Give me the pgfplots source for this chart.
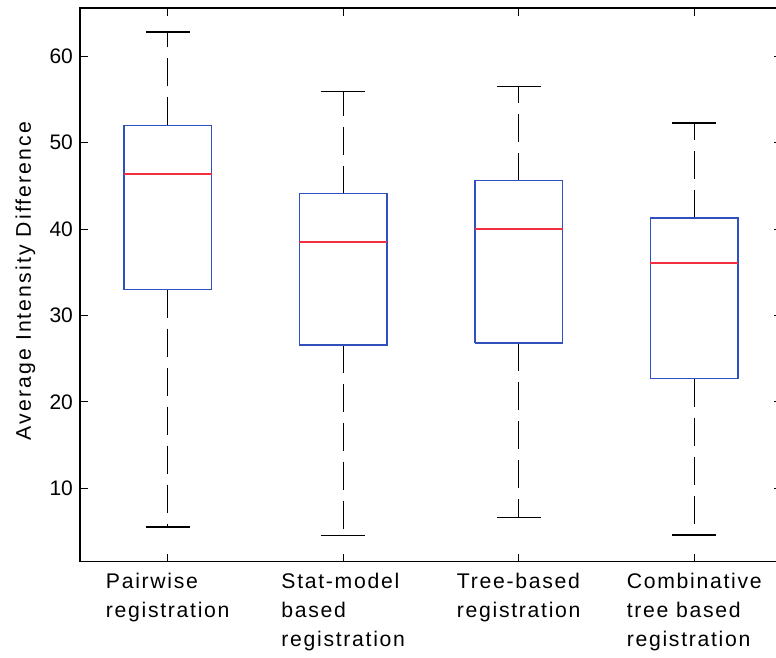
\documentclass[border=0pt]{standalone}
\usepackage{pgfplots}
\pgfplotsset{compat=1.18}
\usepackage{fontspec}
\setmainfont{Liberation Sans}
\newfontfamily\lblfont{Liberation Sans}[LetterSpace=8]
\newfontfamily\ylblfont{Liberation Sans}[LetterSpace=10]

\definecolor{boxblue}{RGB}{48,80,192}
\definecolor{medred}{RGB}{240,48,64}

\pgfplotsset{
  boxline/.style={boxblue, line width=0.7pt, line join=miter},
  medline/.style={medred, line width=0.7pt},
  whisk/.style={black, line width=0.7pt, dash pattern=on 14pt off 5.5pt},
  capline/.style={black, line width=0.7pt},
}

% #1 position, #2 lower whisker, #3 lower quartile, #4 median, #5 upper quartile, #6 upper whisker
\newcommand\drawbox[6]{%
  \pgfmathsetmacro\boxL{#1-0.25}\pgfmathsetmacro\boxR{#1+0.25}%
  \pgfmathsetmacro\capL{#1-0.125}\pgfmathsetmacro\capR{#1+0.125}%
  \addplot[whisk] coordinates {(#1,#5) (#1,#6)};
  \addplot[whisk] coordinates {(#1,#3) (#1,#2)};
  \addplot[capline] coordinates {(\capL,#6) (\capR,#6)};
  \addplot[capline] coordinates {(\capL,#2) (\capR,#2)};
  \addplot[boxline] coordinates {(\boxL,#3) (\boxR,#3) (\boxR,#5) (\boxL,#5) (\boxL,#3)};
  \addplot[medline] coordinates {(\boxL,#4) (\boxR,#4)};
}

\begin{document}
\begin{tikzpicture}
\begin{axis}[
  scale only axis,
  width=351pt, height=276.85pt,
  xmin=0.5, xmax=4.5,
  ymin=1.5, ymax=65.6,
  xtick={1,2,3,4},
  xticklabels={Pairwise\\registration, Stat-model\\based\\registration, Tree-based\\registration, Combinative\\tree based\\registration},
  xticklabel style={align=left, font=\fontsize{10.6}{14.7}\lblfont, yshift=-2pt},
  ytick={10,20,30,40,50,60},
  yticklabel style={font=\fontsize{10.5}{12}\selectfont},
  /pgf/number format/assume math mode=true,
  tick align=inside,
  major tick length=4pt,
  every tick/.style={black, line width=0.6pt},
  axis line style={line width=0.7pt},
  ylabel={Average Intensity Difference},
  ylabel style={font=\fontsize{10.6}{13}\ylblfont, at={(axis description cs:-0.07,0.507)}, anchor=base},
]
\drawbox{1}{5.5}{33.0}{46.4}{52.0}{62.8}
\drawbox{2}{4.55}{26.6}{38.5}{44.1}{55.9}
\drawbox{3}{6.6}{26.8}{40.0}{45.6}{56.5}
\drawbox{4}{4.6}{22.7}{36.1}{41.3}{52.3}
\coordinate (sw) at (rel axis cs:0,0);
\coordinate (ne) at (rel axis cs:1,1);
\end{axis}
\pgfresetboundingbox
\path[use as bounding box] ([xshift=-40pt,yshift=-48.15pt]sw) rectangle ([xshift=-3pt,yshift=4pt]ne);
\end{tikzpicture}
\end{document}
